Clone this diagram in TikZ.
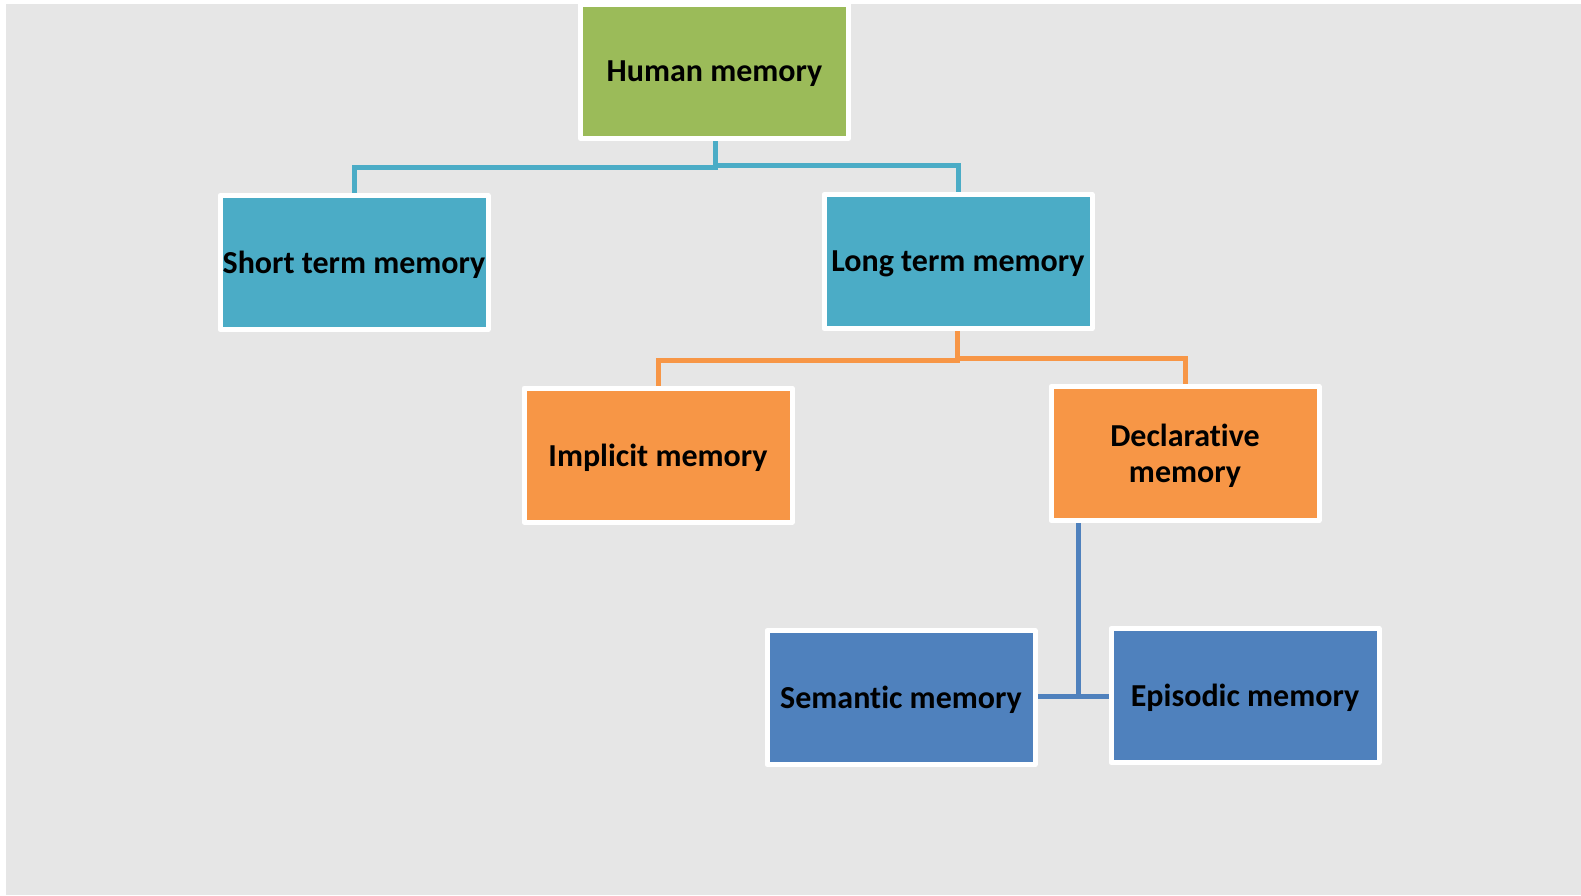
\documentclass[tikz,border=0pt]{standalone}
\usepackage{fontspec}
\setmainfont{Carlito}[Ligatures=NoCommon]
\usetikzlibrary{backgrounds}

\definecolor{bggray}{HTML}{E6E6E6}
\definecolor{mgreen}{HTML}{9BBB59}
\definecolor{mteal}{HTML}{4BACC6}
\definecolor{morange}{HTML}{F79646}
\definecolor{mblue}{HTML}{4F81BD}

\tikzset{
  membox/.style={draw=white, line width=5pt, line join=round, inner sep=0pt,
    minimum width=268pt, minimum height=134pt, align=center, text depth=0pt,
    font=\fontsize{32}{36}\selectfont\bfseries},
  link/.style={line width=5pt}
}

\begin{document}
\begin{tikzpicture}[x=1pt,y=-1pt]
\useasboundingbox (0,0) rectangle (1581,895);
\node[membox,fill=mgreen] (human) at (714.5,71.5) {Human memory};
\node[membox,fill=mteal] (short) at (354,262.5) {Short term memory};
\node[membox,fill=mteal] (long) at (958,261.5) {Long term memory};
\node[membox,fill=morange] (implicit) at (658,455) {Implicit memory};
\node[membox,fill=morange] (declar) at (1185,453.5) {Declarative\\memory};
\node[membox,fill=mblue] (semantic) at (901,697.5) {Semantic memory};
\node[membox,fill=mblue] (episodic) at (1245,695.5) {Episodic memory};
\coordinate (dsplit) at (1078,696);
\begin{scope}[on background layer]
\fill[bggray] (6,4) rectangle (1581,895);
\draw[link,mteal] (human.south -| 715,0) -- (715,167) -| (short);
\draw[link,mteal] (715,165) -| (long);
\draw[link,morange] (long.south -| 957,0) -- (957,360) -| (implicit);
\draw[link,morange] (957,358) -| (declar);
\draw[link,mblue] (declar.south -| dsplit) -- (dsplit) -- (semantic.east |- dsplit);
\draw[link,mblue] (dsplit) -- (episodic.west |- dsplit);
\end{scope}
\end{tikzpicture}
\end{document}
